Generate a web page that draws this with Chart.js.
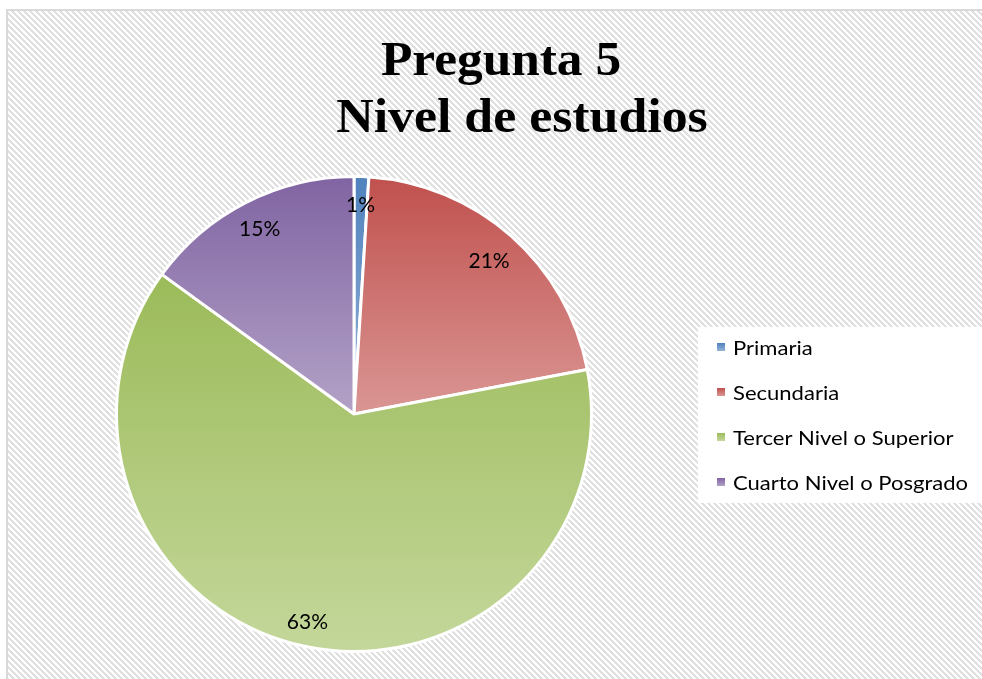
<!DOCTYPE html>
<html>
<head>
<meta charset="utf-8">
<script src="https://cdn.jsdelivr.net/npm/chart.js@4"></script>
<style>
html, body { margin: 0; padding: 0; background: #fff; }
</style>
</head>
<body>
<canvas id="g-estudios" width="982" height="679"></canvas>
<script>
const categorias = ['Primaria', 'Secundaria', 'Tercer Nivel o Superior', 'Cuarto Nivel o Posgrado'];
const porcentajes = [1, 21, 63, 15];
const titulo = ['Pregunta 5', 'Nivel de estudios'];
const colores = ['#4F81BD', '#C0504D', '#9BBB59', '#8064A2'];
const coloresClaros = ['#95B3D7', '#DA9694', '#C4D79B', '#B3A2C7'];

const fuenteTexto = 'Lato, "Noto Sans", sans-serif';

// rayado diagonal del fondo (como el relleno de Excel)
function patronRayado(ctx) {
    const c = document.createElement('canvas');
    c.width = 6; c.height = 6;
    const x = c.getContext('2d');
    const img = x.createImageData(6, 6);
    for (let j = 0; j < 6; j++) {
        for (let i = 0; i < 6; i++) {
            const k = ((i - j) % 6 + 6) % 6;
            const v = k < 3 ? 224 : 255;
            const p = (j * 6 + i) * 4;
            img.data[p] = v; img.data[p + 1] = v; img.data[p + 2] = v; img.data[p + 3] = 255;
        }
    }
    x.putImageData(img, 0, 0);
    return ctx.createPattern(c, 'repeat');
}

// degradado vertical de cada porcion, de su borde superior al inferior
function relleno(context) {
    const i = context.dataIndex;
    const chart = context.chart;
    const area = chart.chartArea;
    if (!area || i === undefined) return colores[i] || colores[0];
    const cx = (area.left + area.right) / 2;
    const cy = (area.top + area.bottom) / 2;
    const r = Math.min(area.width, area.height) / 2;
    const total = porcentajes.reduce((a, b) => a + b, 0);
    let acc = 0;
    for (let k = 0; k < i; k++) acc += porcentajes[k];
    const a0 = -Math.PI / 2 + acc / total * 2 * Math.PI;
    const a1 = a0 + porcentajes[i] / total * 2 * Math.PI;
    const ys = [cy, cy + r * Math.sin(a0), cy + r * Math.sin(a1)];
    for (const t of [-Math.PI / 2, Math.PI / 2, 3 * Math.PI / 2]) {
        if (t >= a0 && t <= a1) ys.push(cy + r * Math.sin(t));
    }
    const y0 = Math.min(...ys), y1 = Math.max(...ys);
    const g = chart.ctx.createLinearGradient(0, y0, 0, y1);
    g.addColorStop(0, colores[i]);
    g.addColorStop(1, coloresClaros[i]);
    return g;
}

// texto estirado a lo ancho (para acercarse a Cambria / Calibri)
function textoAncho(ctx, txt, x, y, sx) {
    ctx.save();
    ctx.translate(x, y);
    ctx.scale(sx, 1);
    ctx.fillText(txt, 0, 0);
    ctx.restore();
}

const fondo = {
    id: 'fondo',
    beforeDraw(chart) {
        const ctx = chart.ctx;
        ctx.save();
        ctx.fillStyle = '#fff';
        ctx.fillRect(0, 0, chart.width, chart.height);
        ctx.fillStyle = patronRayado(ctx);
        ctx.fillRect(8, 11, chart.width - 8, chart.height - 11);
        ctx.fillStyle = '#d9d9d9';
        ctx.fillRect(6, 9, 2, chart.height - 9);
        ctx.fillRect(6, 9, chart.width - 6, 2);
        // titulo
        ctx.fillStyle = '#000';
        ctx.font = 'bold 48px "Liberation Serif", serif';
        ctx.textAlign = 'center';
        ctx.textBaseline = 'alphabetic';
        textoAncho(ctx, titulo[0], 501, 75, 1.07);
        textoAncho(ctx, titulo[1], 522, 132, 1.08);
        ctx.restore();
    }
};

const etiquetas = {
    id: 'etiquetas',
    afterDatasetsDraw(chart) {
        const ctx = chart.ctx;
        const meta = chart.getDatasetMeta(0);
        const factor = [0.88, 0.86, 0.9, 0.875];
        ctx.save();
        ctx.fillStyle = '#000';
        ctx.font = '21px ' + fuenteTexto;
        ctx.textAlign = 'center';
        ctx.textBaseline = 'middle';
        meta.data.forEach((arc, i) => {
            const { x, y, startAngle, endAngle, outerRadius } = arc.getProps(['x', 'y', 'startAngle', 'endAngle', 'outerRadius'], true);
            const m = (startAngle + endAngle) / 2;
            const r = outerRadius * factor[i];
            ctx.fillText(porcentajes[i] + '%', x + Math.cos(m) * r, y + Math.sin(m) * r);
        });

        // leyenda
        ctx.fillStyle = '#fff';
        ctx.fillRect(698, 327, 284, 176);
        ctx.font = '20px ' + fuenteTexto;
        ctx.textAlign = 'left';
        ctx.textBaseline = 'alphabetic';
        const ancho = Math.max(...categorias.map(c => ctx.measureText(c).width));
        const sx = 235 / ancho;
        categorias.forEach((cat, i) => {
            const base = 355 + i * 45;
            const g = ctx.createLinearGradient(0, base - 12, 0, base - 4);
            g.addColorStop(0, colores[i]);
            g.addColorStop(1, coloresClaros[i]);
            ctx.fillStyle = g;
            ctx.fillRect(717, base - 12, 8, 8);
            ctx.fillStyle = '#000';
            textoAncho(ctx, cat, 733, base, sx);
        });
        ctx.restore();
    }
};

const config = {
    type: 'pie',
    data: {
        labels: categorias,
        datasets: [{
            data: porcentajes,
            backgroundColor: relleno,
            borderColor: '#fff',
            borderWidth: 3
        }]
    },
    options: {
        responsive: false,
        animation: false,
        layout: { padding: { left: 115, top: 175, right: 389, bottom: 26 } },
        plugins: {
            legend: { display: false },
            title: { display: false },
            tooltip: { enabled: false }
        }
    },
    plugins: [fondo, etiquetas]
};

new Chart(document.getElementById('g-estudios').getContext('2d'), config);
</script>
</body>
</html>
